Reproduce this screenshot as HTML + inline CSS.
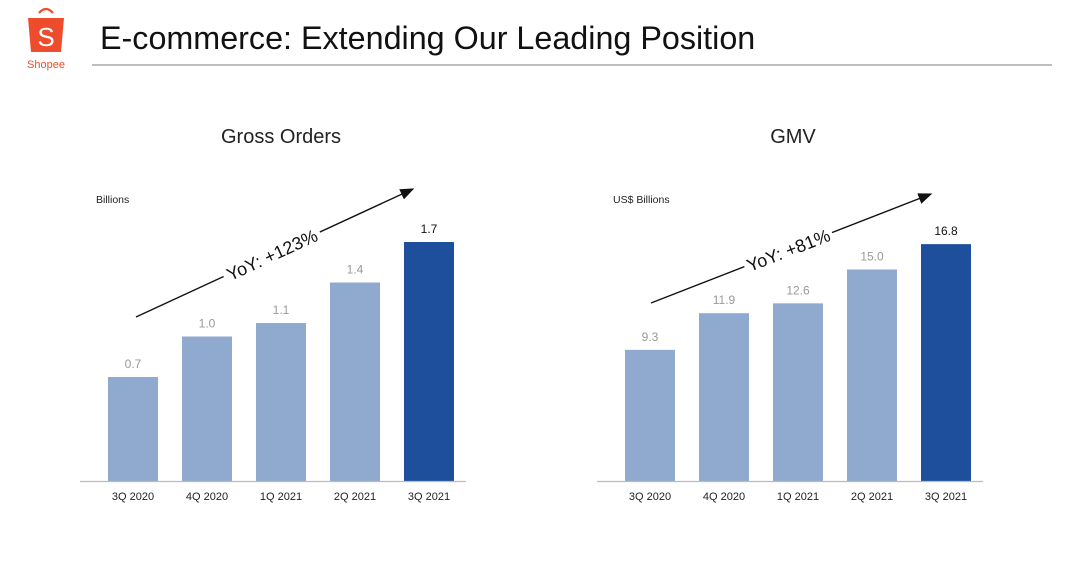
<!DOCTYPE html>
<html><head><meta charset="utf-8"><style>
body{margin:0;background:#fff;width:1080px;height:574px;overflow:hidden;font-family:"Liberation Sans",sans-serif}
svg{display:block}
</style></head><body>
<svg id="s" width="1080" height="574">
  <g>
    <path d="M39 13 q7 -8 14 0" fill="none" stroke="#ee4d2d" stroke-width="2.2"/>
    <path d="M28 18 h36 l-3 34 h-30 z" fill="#ee4d2d"/>
    <text x="46" y="46" text-anchor="middle" font-size="26" fill="#fff">S</text>
    <text x="46" y="68" text-anchor="middle" font-size="11" fill="#ee4d2d">Shopee</text>
  </g>
  <text x="100" y="49" font-size="32.3" fill="#111">E-commerce: Extending Our Leading Position</text>
  <line x1="92" y1="65" x2="1052" y2="65" stroke="#999" stroke-width="1.2"/>
  <defs><marker id="ah" markerWidth="10" markerHeight="8" refX="9" refY="4" orient="auto"><path d="M0 0 L10 4 L0 8 z" fill="#111"/></marker></defs>
</svg>
<script>
const categories=["3Q 2020","4Q 2020","1Q 2021","2Q 2021","3Q 2021"];
const ordersValues=[0.7,1.0,1.1,1.4,1.7];
const ordersLabels=["0.7","1.0","1.1","1.4","1.7"];
const gmvValues=[9.3,11.9,12.6,15.0,16.8];
const gmvLabels=["9.3","11.9","12.6","15.0","16.8"];
const S=document.getElementById('s');
const NS="http://www.w3.org/2000/svg";
function mk(t,a,p){const e=document.createElementNS(NS,t);for(const k in a)e.setAttribute(k,a[k]);(p||S).appendChild(e);return e;}
function chart(cfg){
  const g=mk('g',{});
  
  
  const t=mk('text',{x:cfg.titleX,y:143,'text-anchor':'middle','font-size':20,fill:'#222'},g);t.textContent=cfg.title;
  
  
  const u=mk('text',{x:cfg.axisX0+16,y:203,'font-size':10.5,fill:'#222'},g);u.textContent=cfg.unit;
  
  
  const base=481;
  const y=v=>base-(cfg.off+v*cfg.ppu);
  const x=i=>cfg.x0+i*cfg.step;
  cfg.values.forEach((v,i)=>{
    const last=i===cfg.values.length-1;
    const r=mk('rect',{x:x(i),y:y(v),width:50,height:base-y(v),fill:last?'#1e4f9c':'#8fa9cf'},g);
    
    
    const l=mk('text',{x:x(i)+25,y:y(v)-9,'text-anchor':'middle','font-size':12,fill:last?'#111':'#999'},g);l.textContent=cfg.labels[i];
    
    
    const c=mk('text',{x:x(i)+25,y:500,'text-anchor':'middle','font-size':11,fill:'#222'},g);c.textContent=categories[i];
    
    
  });
  const ax=mk('line',{x1:cfg.axisX0,y1:base+0.5,x2:cfg.axisX1,y2:base+0.5,stroke:'#bbb','stroke-width':1.2},g);
  
  
  const a=cfg.arrow;
  const ar=mk('line',{x1:a[0],y1:a[1],x2:a[2],y2:a[3],stroke:'#111','stroke-width':1.4,'marker-end':'url(#ah)'},g);
  
  
  const ang=Math.atan2(a[3]-a[1],a[2]-a[0])*180/Math.PI;
  const cx=a[0]+(a[2]-a[0])*cfg.tpos, cy=a[1]+(a[3]-a[1])*cfg.tpos;
  const tg=mk('g',{transform:`translate(${cx},${cy}) rotate(${ang})`},g);
  mk('rect',{x:-cfg.tw/2,y:-12,width:cfg.tw,height:24,fill:'#fff'},tg);
  const yt=mk('text',{x:0,y:7,'text-anchor':'middle','font-size':18,fill:'#111'},tg);yt.textContent=cfg.yoy;
  
  
}
chart({name:'gross-orders-chart',title:'Gross Orders',titleX:281,unit:'Billions',axisX0:80,axisX1:466,x0:108,step:74,ppu:135,off:9.5,values:ordersValues,labels:ordersLabels,arrow:[136,317,413,189],tpos:0.49,tw:106,yoy:'YoY: +123%'});
chart({name:'gmv-chart',title:'GMV',titleX:793,unit:'US$ Billions',axisX0:597,axisX1:983,x0:625,step:74,ppu:14.1,off:0,values:gmvValues,labels:gmvLabels,arrow:[651,303,931,194],tpos:0.49,tw:94,yoy:'YoY: +81%'});
</script>
</body></html>
